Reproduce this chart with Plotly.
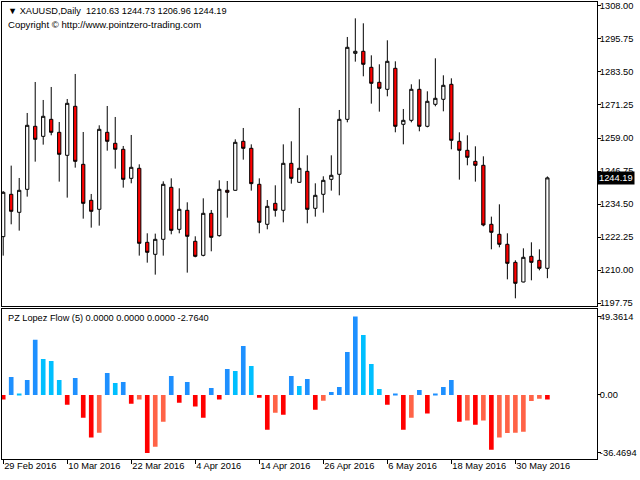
import plotly.graph_objects as go

dates = [
    "2016-02-29", "2016-03-01", "2016-03-02", "2016-03-03", "2016-03-04",
    "2016-03-07", "2016-03-08", "2016-03-09", "2016-03-10", "2016-03-11",
    "2016-03-14", "2016-03-15", "2016-03-16", "2016-03-17", "2016-03-18",
    "2016-03-21", "2016-03-22", "2016-03-23", "2016-03-24",
    "2016-03-28", "2016-03-29", "2016-03-30", "2016-03-31", "2016-04-01",
    "2016-04-04", "2016-04-05", "2016-04-06", "2016-04-07", "2016-04-08",
    "2016-04-11", "2016-04-12", "2016-04-13", "2016-04-14", "2016-04-15",
    "2016-04-18", "2016-04-19", "2016-04-20", "2016-04-21", "2016-04-22",
    "2016-04-25", "2016-04-26", "2016-04-27", "2016-04-28", "2016-04-29",
    "2016-05-02", "2016-05-03", "2016-05-04", "2016-05-05", "2016-05-06",
    "2016-05-09", "2016-05-10", "2016-05-11", "2016-05-12", "2016-05-13",
    "2016-05-16", "2016-05-17", "2016-05-18", "2016-05-19", "2016-05-20",
    "2016-05-23", "2016-05-24", "2016-05-25", "2016-05-26", "2016-05-27",
    "2016-05-30", "2016-05-31", "2016-06-01", "2016-06-02", "2016-06-03",
]

open_ = [1222.38, 1238.10, 1231.41, 1239.95, 1263.34, 1259.62, 1265.93, 1261.11, 1252.57, 1270.76,
         1249.23, 1235.87, 1232.53, 1261.11, 1257.03, 1254.80, 1244.03, 1247.75, 1220.28, 1215.82,
         1221.39, 1240.69, 1225.10, 1232.16, 1220.65, 1215.45, 1231.04, 1222.75, 1239.58, 1239.58,
         1257.77, 1255.17, 1241.81, 1226.96, 1234.75, 1232.16, 1249.60, 1242.55, 1246.63, 1232.90,
         1238.10, 1243.66, 1245.52, 1265.93, 1290.43, 1291.18, 1285.24, 1279.67, 1277.07, 1284.87,
         1264.08, 1265.56, 1277.07, 1263.34, 1271.50, 1273.36, 1278.93, 1257.77, 1254.43, 1250.34,
         1248.86, 1226.96, 1223.25, 1219.54, 1212.85, 1205.55, 1215.08, 1213.60, 1210.63]
high = [1239.30, 1248.74, 1244.16, 1268.29, 1279.79, 1273.11, 1277.94, 1264.94, 1273.48, 1282.76,
        1261.23, 1238.22, 1263.71, 1270.88, 1266.80, 1256.04, 1260.12, 1249.23, 1223.62, 1223.50,
        1242.92, 1244.03, 1240.32, 1235.13, 1222.51, 1236.61, 1232.28, 1243.29, 1243.04, 1258.51,
        1262.72, 1256.65, 1244.03, 1235.99, 1241.44, 1256.65, 1257.77, 1270.14, 1252.57, 1242.18,
        1244.78, 1252.57, 1269.40, 1296.50, 1303.42, 1301.57, 1289.69, 1286.35, 1295.26, 1287.46,
        1269.77, 1278.93, 1280.78, 1276.33, 1288.58, 1282.27, 1281.15, 1261.11, 1260.00, 1255.91,
        1252.20, 1229.81, 1234.38, 1223.62, 1213.60, 1218.05, 1220.28, 1217.68, 1244.73]
low = [1215.33, 1226.96, 1224.61, 1237.23, 1250.22, 1256.53, 1260.00, 1242.80, 1236.86, 1247.99,
       1229.06, 1225.72, 1226.46, 1254.30, 1247.62, 1240.57, 1242.18, 1215.33, 1212.73, 1208.28,
       1215.33, 1223.25, 1223.62, 1209.02, 1214.71, 1215.08, 1216.94, 1222.38, 1229.43, 1239.46,
       1250.96, 1239.46, 1223.62, 1225.10, 1229.81, 1227.70, 1242.06, 1242.40, 1227.33, 1229.81,
       1231.29, 1239.46, 1237.72, 1264.82, 1287.34, 1281.90, 1271.75, 1268.78, 1274.47, 1261.11,
       1256.65, 1264.82, 1261.48, 1262.96, 1270.76, 1268.90, 1254.80, 1243.54, 1248.86, 1242.80,
       1226.22, 1217.68, 1218.42, 1206.54, 1199.49, 1205.43, 1206.17, 1209.88, 1206.96]
close = [1238.84, 1231.79, 1239.58, 1263.71, 1258.51, 1267.05, 1261.11, 1252.94, 1271.87, 1250.34,
         1234.75, 1231.79, 1262.22, 1257.77, 1254.80, 1243.66, 1248.12, 1219.91, 1216.57, 1221.39,
         1241.81, 1224.73, 1232.53, 1222.51, 1215.08, 1231.04, 1222.13, 1239.95, 1238.84, 1257.40,
         1255.17, 1242.06, 1227.70, 1233.64, 1232.16, 1249.60, 1244.03, 1247.75, 1232.53, 1237.72,
         1243.29, 1245.15, 1265.93, 1292.66, 1291.18, 1286.35, 1279.30, 1277.44, 1287.46, 1263.34,
         1265.56, 1277.07, 1263.34, 1272.62, 1273.73, 1278.56, 1258.14, 1254.43, 1251.83, 1248.86,
         1226.71, 1223.99, 1219.54, 1212.48, 1205.06, 1214.71, 1212.85, 1210.63, 1244.19]

flow = [-2.9, 11.3, 0.6, 9.4, 34.8, 22.6, 21.4, 9.4, -6.1, 10.7,
        -14.3, -26.8, -23.7, 13.8, 7.5, 8.2, -5.5, -2.9, -36.4694, -32.5,
        -16.8, 11.9, -4.8, 8.2, -7.3, -14.3, 4.4, -2.9, 16.4, 15.1,
        30.8, 18.2, -1.7, -21.8, -11.1, -12.4, 11.9, 5.7, 10.1, -9.2,
        -3.6, 1.9, 5.0, 27.0, 49.3614, 37.7, 19.5, 3.8, -6.1, 0.4,
        -21.8, -14.3, 3.1, -11.7, 0.6, 5.0, 9.4, -16.8, -16.1, -18.7,
        -16.1, -34.4, -26.8, -23.9, -23.7, -23.1, -3.8, -2.3, -2.764]

price_ticks = [1308.00, 1295.75, 1283.50, 1271.25, 1259.00, 1246.75, 1234.50, 1222.25, 1210.00, 1197.75]
flow_ticks = [49.3614, 0.0, -36.4694]
flow_tick_text = ["49.3614", "0.00", "-36.4694"]
date_ticks = ["2016-02-29", "2016-03-10", "2016-03-22", "2016-04-04", "2016-04-14",
              "2016-04-26", "2016-05-06", "2016-05-18", "2016-05-30"]
date_tick_text = ["29 Feb 2016", "10 Mar 2016", "22 Mar 2016", "4 Apr 2016", "14 Apr 2016",
                  "26 Apr 2016", "6 May 2016", "18 May 2016", "30 May 2016"]

# histogram colours by buffer: rising/falling above and below zero
colors = []
for i, v in enumerate(flow):
    prev = flow[i - 1] if i > 0 else 0
    if v >= 0:
        colors.append("#1E90FF" if v > prev else "#00BFFF")
    else:
        colors.append("#FF0000" if v <= prev else "#FF6347")

FONT = "Liberation Sans, Arial, sans-serif"
fig = go.Figure()
fig.add_trace(go.Candlestick(
    x=dates, open=open_, high=high, low=low, close=close,
    xaxis="x", yaxis="y",
    increasing=dict(line=dict(color="black", width=1), fillcolor="white"),
    decreasing=dict(line=dict(color="black", width=1), fillcolor="#FF0000"),
    whiskerwidth=0, showlegend=False, hoverinfo="skip",
))
fig.add_trace(go.Bar(
    x=dates, y=flow, marker=dict(color=colors, line=dict(width=0)), width=0.58,
    xaxis="x2", yaxis="y2", showlegend=False, hoverinfo="skip",
))

xr = [-0.15, 74.2]
axis_common = dict(showline=True, mirror=True, linecolor="black", linewidth=1,
                   showgrid=False, zeroline=False)
fig.update_layout(
    width=640, height=480,
    margin=dict(l=2, r=43, t=2, b=21),
    paper_bgcolor="white", plot_bgcolor="white",
    font=dict(family=FONT, size=9.3, color="black"),
    boxgap=0.42,
    xaxis=dict(domain=[0, 1], anchor="y", type="category", range=xr,
               showticklabels=False, ticks="", rangeslider=dict(visible=False),
               **axis_common),
    yaxis=dict(domain=[0.3348, 1], anchor="x", side="right", range=[1196.64, 1309.48],
               tickvals=price_ticks, ticktext=[f"{v:.2f}" for v in price_ticks],
               ticks="outside", ticklen=3, tickcolor="black", ticklabelstandoff=-3,
               **axis_common),
    xaxis2=dict(domain=[0, 1], anchor="y2", type="category", range=xr,
                tickvals=date_ticks, ticktext=date_tick_text, ticks="outside",
                ticklen=4, tickcolor="black", ticklabelposition="outside right",
                ticklabelstandoff=-2, **axis_common),
    yaxis2=dict(domain=[0, 0.3293], anchor="x2", side="right", range=[-40.25, 54.4],
                tickvals=flow_ticks, ticktext=flow_tick_text,
                ticks="outside", ticklen=3, tickcolor="black", ticklabelstandoff=-3,
                **axis_common),
    annotations=[
        dict(xref="paper", yref="paper", x=0.0067, y=0.980, xanchor="left", yanchor="middle",
             text="▼ XAUUSD,Daily  1210.63 1244.73 1206.96 1244.19", showarrow=False,
             font=dict(size=9.2)),
        dict(xref="paper", yref="paper", x=0.0067, y=0.951, xanchor="left", yanchor="middle",
             text="Copyright © http://www.pointzero-trading.com", showarrow=False,
             font=dict(size=9.6)),
        dict(xref="paper", yref="paper", x=0.0067, y=0.3085, xanchor="left", yanchor="middle",
             text="PZ Lopez Flow (5) 0.0000 0.0000 0.0000 -2.7640", showarrow=False,
             font=dict(size=9.2)),
        dict(xref="paper", yref="y", x=1.0, y=1244.19, xanchor="left", yanchor="middle",
             text="1244.19", showarrow=False, bgcolor="black", borderpad=1,
             font=dict(size=9.3, color="white")),
    ],
)
fig.write_html("out.html", config={"displayModeBar": False},
               post_script="document.body.style.margin='0';")
